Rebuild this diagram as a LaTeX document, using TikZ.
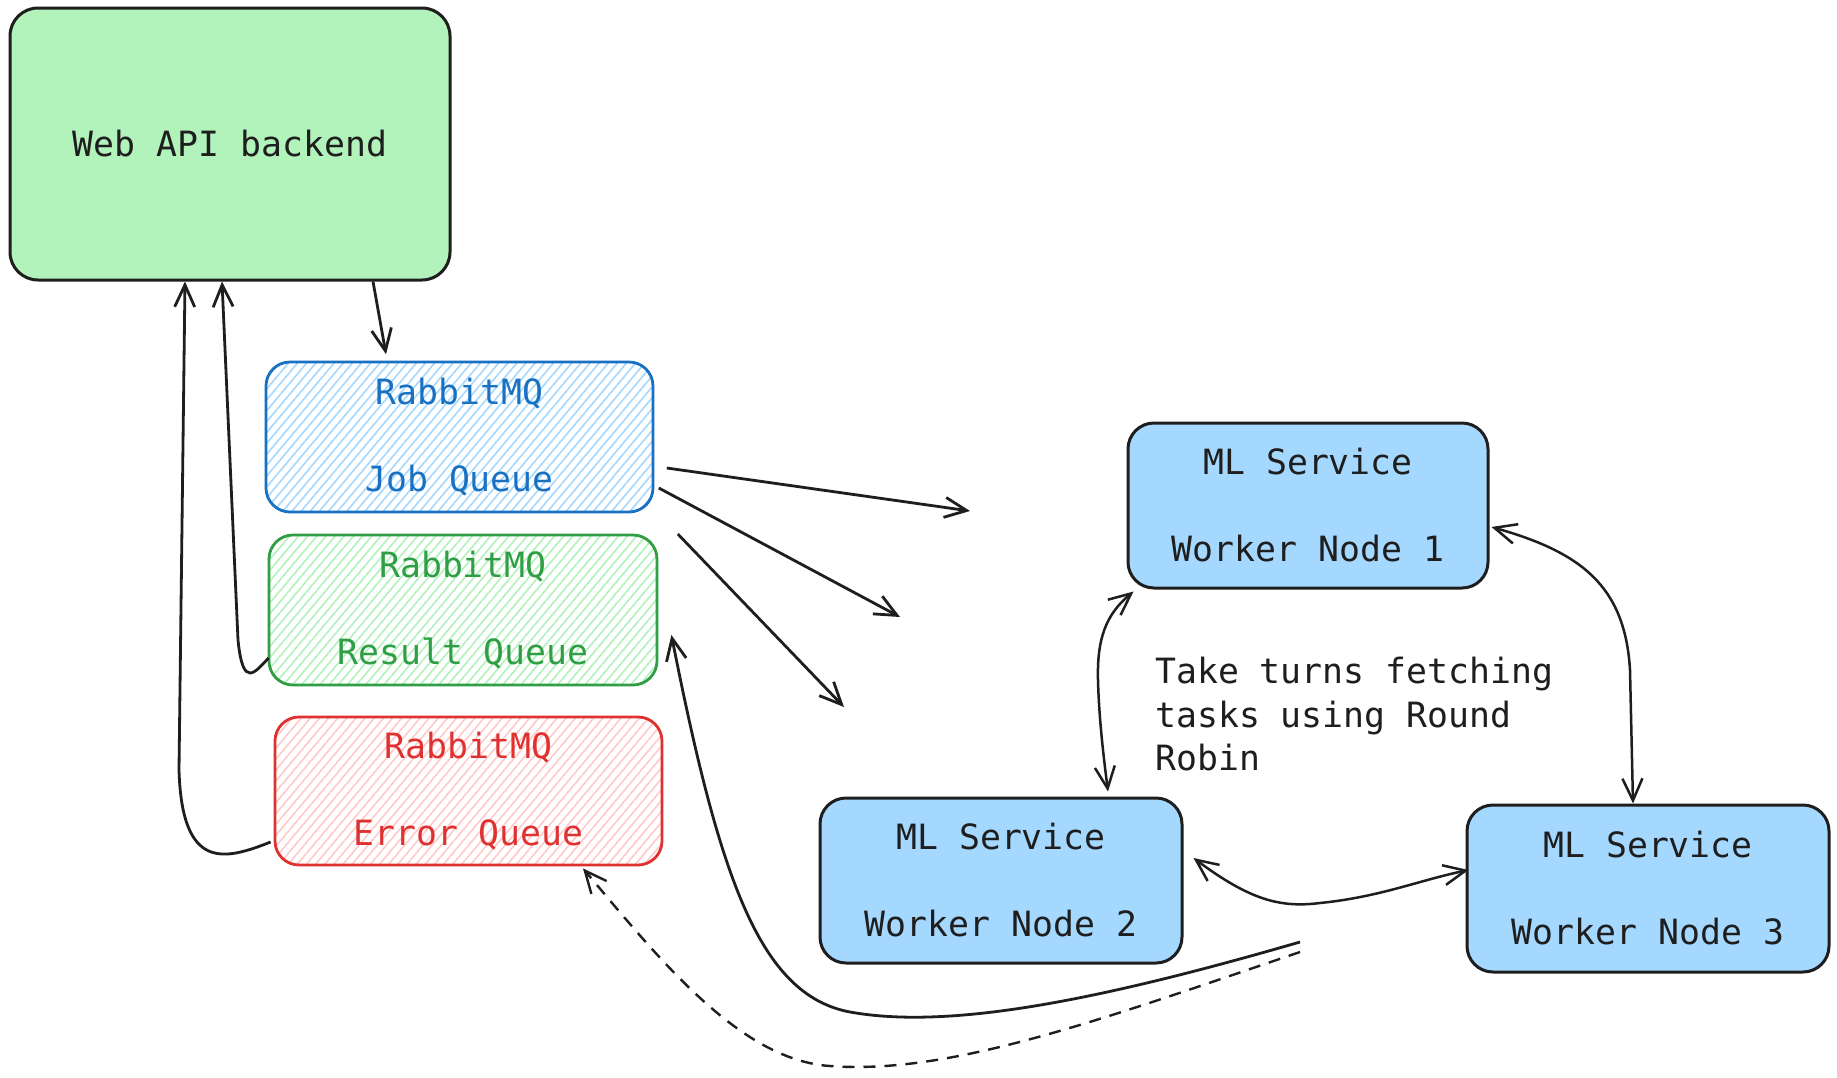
\documentclass[tikz,border=0pt]{standalone}
\usepackage{fontspec}
\newfontfamily\codefont{DejaVu Sans Mono}
\usetikzlibrary{arrows.meta,patterns.meta,calc}
\definecolor{ink}{HTML}{1E1E1E}
\definecolor{webgreen}{HTML}{B2F2BB}
\definecolor{mlblue}{HTML}{A5D8FF}
\definecolor{qblue}{HTML}{1971C2}
\definecolor{qgreen}{HTML}{2F9E44}
\definecolor{qred}{HTML}{E03131}
\definecolor{hblue}{HTML}{A5D8FF}
\definecolor{hgreen}{HTML}{B2F2BB}
\definecolor{hred}{HTML}{FFC9C9}
\tikzset{
  txt/.style={font=\codefont\fontsize{34.8}{43.5}\selectfont, text=ink},
  box/.style={txt, draw=ink, line width=3pt, rounded corners=28pt, align=center, inner sep=0pt},
  queue/.style={box, rounded corners=24pt, line width=2.8pt},
  hatch/.style={pattern={Lines[angle=50,distance=7pt,line width=1.6pt]}},
  mlnode/.style={box, fill=mlblue, rounded corners=26pt},
  arr/.style={draw=ink, line width=2.8pt, -{Straight Barb[length=22pt,width=20pt]}},
  biarr/.style={draw=ink, line width=2.5pt, {Straight Barb[length=22pt,width=20pt]}-{Straight Barb[length=22pt,width=20pt]}},
  dasharr/.style={arr, line width=2.4pt, dash pattern=on 12pt off 9pt},
}
\begin{document}
\begin{tikzpicture}[x=1pt,y=-1pt]
\useasboundingbox (0,0) rectangle (1837,1077);
\fill[white] (0,0) rectangle (1837,1077);

% main boxes
\node[box, fill=webgreen, minimum width=440pt, minimum height=272pt] (web) at (230,144) {Web API backend};

\node[queue, draw=qblue, text=qblue, hatch, pattern color=hblue,
      minimum width=387pt, minimum height=150pt] (job) at (459.5,437) {RabbitMQ\\\mbox{}\\Job Queue};
\node[queue, draw=qgreen, text=qgreen, hatch, pattern color=hgreen,
      minimum width=388pt, minimum height=150pt] (result) at (463,610) {RabbitMQ\\\mbox{}\\Result Queue};
\node[queue, draw=qred, text=qred, hatch, pattern color=hred,
      minimum width=387pt, minimum height=148pt] (error) at (468.5,791) {RabbitMQ\\\mbox{}\\Error Queue};

\node[mlnode, minimum width=360pt, minimum height=165pt] (node1) at (1308,505.5) {ML Service\\\mbox{}\\Worker Node 1};
\node[mlnode, minimum width=362pt, minimum height=165pt] (node2) at (1001,880.5) {ML Service\\\mbox{}\\Worker Node 2};
\node[mlnode, minimum width=362pt, minimum height=167pt] (node3) at (1648,888.5) {ML Service\\\mbox{}\\Worker Node 3};

\node[txt, anchor=north west, align=left, inner sep=0pt] (note) at (1155,657)
  {Take turns fetching\\tasks using Round\\Robin};

% free ends
\coordinate (f1) at (970,511);
\coordinate (f2) at (900,617);
\coordinate (f3) at (844,707);
\coordinate (s1) at (1300,942);
\coordinate (s2) at (1300,952);

% web -> job queue
\draw[arr] ([xshift=143pt]web.south) -- ([xshift=-73.5pt,yshift=7pt]job.north);

% queues -> web
\draw[arr] ([xshift=-3pt,yshift=-51pt]error.west) .. controls (225,860) and (182,872) .. (179,770)
  -- ([xshift=-45pt]web.south);
\draw[arr] ([xshift=1pt,yshift=-48pt]result.west) .. controls (255,672) and (243,690) .. (238,640)
  -- ([xshift=-8pt]web.south);

% job queue -> workers (free ends)
\draw[arr] ([xshift=13pt,yshift=-31pt]job.east) -- (f1);
\draw[arr] ([xshift=5pt,yshift=-51pt]job.east) -- (f2);
\draw[arr] ([xshift=24pt,yshift=-97pt]job.east) -- (f3);

% results / errors back
\draw[arr] (s1) .. controls (1100,1000) and (950,1030) .. (850,1012)
  .. controls (760,995) and (720,880) .. ([xshift=13pt,yshift=-25pt]result.east);
\draw[dasharr] (s2) .. controls (1100,1020) and (950,1075) .. (830,1066)
  .. controls (740,1060) and (660,960) .. ([xshift=114.5pt,yshift=-2pt]error.south);

% between workers
\draw[biarr] ([xshift=7pt,yshift=-2pt]node1.south west) .. controls (1105,615) and (1097,640) .. (1098,680)
  .. controls (1099,720) and (1104,760) .. ([xshift=107pt,yshift=5pt]node2.north);
\draw[biarr] ([xshift=2pt,yshift=-21.5pt]node1.east) .. controls (1580,552) and (1625,585) .. (1630,670)
  -- ([xshift=-15pt]node3.north);
\draw[biarr] ([xshift=10pt,yshift=22.5pt]node2.east) .. controls (1250,900) and (1280,908) .. (1320,903)
  .. controls (1380,897) and (1420,880) .. ([xshift=3pt,yshift=18.5pt]node3.west);
\end{tikzpicture}
\end{document}
